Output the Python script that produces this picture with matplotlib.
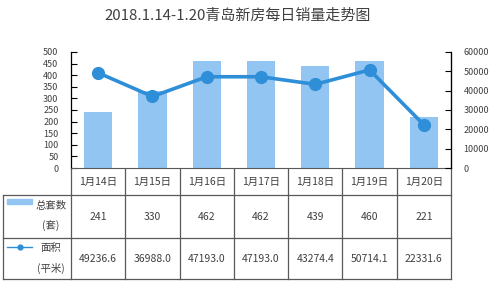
import matplotlib.pyplot as plt
from matplotlib.lines import Line2D

plt.rcParams['font.family'] = ['Noto Sans CJK SC', 'DejaVu Sans']

# data
days = ['1月14日', '1月15日', '1月16日', '1月17日', '1月18日', '1月19日', '1月20日']
total_sets = [241, 330, 462, 462, 439, 460, 221]
area = [49236.6, 36988.0, 47193.0, 47193.0, 43274.4, 50714.1, 22331.6]
area_labels = ['49236.6', '36988.0', '47193.0', '47193.0', '43274.4', '50714.1', '22331.6']

bar_color = '#92C5F2'
line_color = '#2E8FD8'
text_color = '#404040'
grid_color = '#595959'

W, H = 493, 285
fig = plt.figure(figsize=(W / 100, H / 100), dpi=100)

# plot area in pixel coordinates
x0, x1 = 71, 451
y_top, y_bot = 52, 168
ax = fig.add_axes([x0 / W, 1 - y_bot / H, (x1 - x0) / W, (y_bot - y_top) / H])
xs = list(range(len(days)))
ax.bar(xs, total_sets, width=0.52, color=bar_color, zorder=2)
ax.set_xlim(-0.5, len(days) - 0.5)
ax.set_ylim(0, 500)
ax.set_yticks(range(0, 501, 50))
ax.set_xticks([])
ax.tick_params(axis='y', direction='in', length=4, pad=9, labelsize=6.5,
               labelcolor=text_color, width=0.8)
ax.spines['top'].set_visible(False)
ax.spines['left'].set_linewidth(0.9)
ax.spines['bottom'].set_color(grid_color)

ax2 = ax.twinx()
ax2.plot(xs, area, color=line_color, lw=2.6, marker='o', markersize=8.5,
         zorder=3)
ax2.set_ylim(0, 60000)
ax2.set_yticks(range(0, 60001, 10000))
ax2.tick_params(axis='y', direction='in', length=4, pad=9, labelsize=6.5,
                labelcolor=text_color, width=0.8)
ax2.spines['top'].set_visible(False)
ax2.spines['left'].set_visible(False)
ax2.spines['bottom'].set_visible(False)
ax2.spines['right'].set_linewidth(0.9)

fig.text(238 / W, 1 - 16 / H, '2018.1.14-1.20青岛新房每日销量走势图',
         ha='center', va='center', fontsize=10.8, color=text_color)

# data table underneath
tab = fig.add_axes([0, 0, 1, 1], zorder=-1)
tab.set_xlim(0, W)
tab.set_ylim(H, 0)
tab.axis('off')
col_w = (x1 - x0) / len(days)
r0, r1, r2, r3 = y_bot, 195, 238, 279
lk = dict(color=grid_color, lw=0.9)
for i in range(len(days) + 1):
    xv = x0 + i * col_w
    tab.add_line(Line2D([xv, xv], [r0, r3], **lk))
tab.add_line(Line2D([3, 3], [r1, r3], **lk))
for yv in [r1, r2, r3]:
    tab.add_line(Line2D([3, x1], [yv, yv], **lk))

for i, d in enumerate(days):
    cx = x0 + (i + 0.5) * col_w
    tab.text(cx, (r0 + r1) / 2, d, ha='center', va='center', fontsize=7.5, color=text_color)
    tab.text(cx, (r1 + r2) / 2, str(total_sets[i]), ha='center', va='center',
             fontsize=7.5, color=text_color)
    tab.text(cx, (r2 + r3) / 2, area_labels[i], ha='center', va='center',
             fontsize=7.5, color=text_color)

# legend keys in table
tab.add_patch(plt.Rectangle((7, 199), 25, 5, color=bar_color))
tab.text(51, 206, '总套数', ha='center', va='center', fontsize=7.5, color=text_color)
tab.text(51, 226, '(套)', ha='center', va='center', fontsize=7.5, color=text_color)
tab.add_line(Line2D([7, 32], [247, 247], color=line_color, lw=1))
tab.plot([19.5], [247], marker='o', markersize=3.5, color=line_color)
tab.text(51, 248, '面积', ha='center', va='center', fontsize=7.5, color=text_color)
tab.text(51, 268, '(平米)', ha='center', va='center', fontsize=7.5, color=text_color)

fig.savefig('out.png', dpi=100)
